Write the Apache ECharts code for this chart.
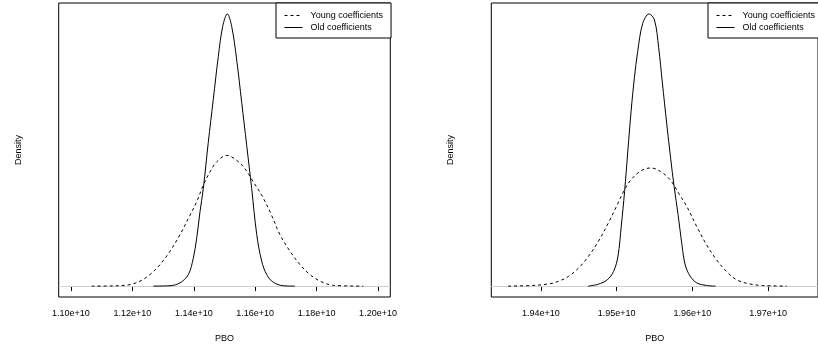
<!DOCTYPE html>
<html>
<head>
<meta charset="utf-8">
<script src="https://cdn.jsdelivr.net/npm/echarts@6/dist/echarts.min.js"></script>
<style>
html,body{margin:0;padding:0;background:#fff;overflow:hidden;}
#c{width:818px;height:348px;}
</style>
</head>
<body>
<div id="c"></div>
<script>
// ---- Data (x in units of 1e10, density in arbitrary units ×1e-9) ----
const seriesNames = ["Young coefficients", "Old coefficients"];

// Left panel
const leftYoungX = [1.10674,1.11378,1.11922,1.12248,1.12573,1.12899,1.13225,1.13550,1.13876,1.14094,1.14309,1.14528,1.14746,1.15072,1.15397,1.15668,1.15938,1.16212,1.16482,1.16808,1.17134,1.17459,1.17785,1.18111,1.18544,1.19521];
const leftYoungY = [0,0.005,0.04,0.13,0.30,0.56,0.91,1.34,1.85,2.20,2.63,2.98,3.24,3.41,3.28,3.06,2.72,2.37,1.94,1.34,0.91,0.56,0.30,0.13,0.02,0];
const leftOldX = [1.12681,1.13225,1.13550,1.13821,1.13984,1.14094,1.14202,1.14309,1.14472,1.14635,1.14798,1.14941,1.15091,1.15235,1.15397,1.15560,1.15723,1.15886,1.16049,1.16212,1.16375,1.16590,1.16915,1.17296];
const leftOldY = [0,0.01,0.085,0.30,0.73,1.25,1.94,2.54,3.75,4.87,5.99,6.77,7.10,6.77,5.90,4.79,3.67,2.54,1.35,0.65,0.30,0.10,0.01,0];
const leftTicks = [1.10,1.12,1.14,1.16,1.18,1.20];

// Right panel
const rightYoungX = [1.93566,1.93891,1.94108,1.94238,1.94368,1.94498,1.94628,1.94758,1.94888,1.94996,1.95105,1.95191,1.95321,1.95451,1.95581,1.95711,1.95821,1.95928,1.96058,1.96188,1.96318,1.96448,1.96578,1.96752,1.96926,1.97246];
const rightYoungY = [0,0.04,0.14,0.31,0.62,1.13,1.86,2.79,3.92,4.96,6.02,6.65,7.20,7.38,7.16,6.61,5.78,4.96,3.72,2.58,1.65,0.93,0.41,0.14,0.04,0];
const rightOldX = [1.94624,1.94758,1.94875,1.94960,1.95018,1.95061,1.95105,1.95148,1.95191,1.95235,1.95278,1.95343,1.95428,1.95499,1.95555,1.95603,1.95662,1.95714,1.95759,1.95811,1.95863,1.95906,1.95971,1.96058,1.96188,1.96306];
const rightOldY = [0,0.12,0.39,0.92,1.88,3.74,5.91,8.44,10.93,13.03,14.64,16.38,17.0,16.63,14.89,12.74,10.12,7.95,6.22,4.48,2.56,1.32,0.62,0.20,0.04,0];
const rightTicks = [1.94,1.95,1.96,1.97];

// ---- Build ----
const E10 = 1e10;
const pairs = (xs, ys) => xs.map((x, i) => [x * E10, ys[i]]);
const FONT = "'Liberation Sans', Arial, Helvetica, sans-serif";

function xAxisFor(idx, min, max, ticks) {
  const vals = ticks.map(t => t * E10);
  return {
    type: 'value', gridIndex: idx, min: min * E10, max: max * E10,
    name: 'PBO', nameLocation: 'middle', nameGap: 37,
    nameTextStyle: { fontFamily: FONT, fontSize: 9, color: '#000' },
    axisLine: { show: false },
    axisTick: { show: true, length: 5, lineStyle: { color: '#000', width: 1 }, customValues: vals },
    axisLabel: { show: true, customValues: vals, margin: 12, fontFamily: FONT, fontSize: 9, color: '#000',
      formatter: v => (v / E10).toFixed(2) + 'e+10' },
    splitLine: { show: false }
  };
}
function yAxisFor(idx, max) {
  return {
    type: 'value', gridIndex: idx, min: -0.04 * max, max: 1.04 * max,
    name: 'Density', nameLocation: 'middle', nameGap: 36,
    nameTextStyle: { fontFamily: FONT, fontSize: 9, color: '#000' },
    axisLine: { show: false }, axisTick: { show: false }, axisLabel: { show: false },
    splitLine: { show: false }
  };
}
function lineSeries(name, idx, data, dashed, withZero) {
  const s = {
    name, type: 'line', xAxisIndex: idx, yAxisIndex: idx, data,
    symbol: 'none', smooth: 0.35, silent: true, animation: false,
    lineStyle: { color: '#000', width: 1, type: dashed ? [3, 3] : 'solid' },
    itemStyle: { color: '#000' },
    z: 3
  };
  if (withZero) {
    s.markLine = {
      silent: true, symbol: 'none', label: { show: false }, animation: false,
      lineStyle: { color: '#cfcfcf', width: 1, type: 'solid' },
      data: [{ yAxis: 0 }], z: 1
    };
  }
  return s;
}
function legendFor(left) {
  return {
    left: left, top: 3, orient: 'vertical',
    data: seriesNames,
    itemWidth: 18, itemHeight: 9, itemGap: 3,
    padding: [8, 8, 6, 8],
    borderColor: '#000', borderWidth: 1, borderRadius: 0,
    backgroundColor: '#fff',
    selectedMode: false,
    itemStyle: { opacity: 0 },
    lineStyle: { width: 1, color: '#000' },
    textStyle: { fontFamily: FONT, fontSize: 9, color: '#000', padding: [0, 0, 0, 3] }
  };
}

const chart = echarts.init(document.getElementById('c'), null, { renderer: 'canvas' });
chart.setOption({
  animation: false,
  backgroundColor: '#fff',
  grid: [
    { left: 58.7, top: 3, width: 331.6, height: 296.3, show: true, borderColor: '#000', borderWidth: 1, backgroundColor: 'transparent' },
    { left: 491.3, top: 3, width: 331.6, height: 296.3, show: true, borderColor: '#000', borderWidth: 1, backgroundColor: 'transparent' }
  ],
  legend: [legendFor(276), legendFor(708)],
  xAxis: [xAxisFor(0, 1.096, 1.204, leftTicks), xAxisFor(1, 1.93345, 1.97659, rightTicks)],
  yAxis: [yAxisFor(0, 7.1), yAxisFor(1, 17.0)],
  series: [
    lineSeries(seriesNames[0], 0, pairs(leftYoungX, leftYoungY), true, true),
    lineSeries(seriesNames[1], 0, pairs(leftOldX, leftOldY), false, false),
    lineSeries(seriesNames[0], 1, pairs(rightYoungX, rightYoungY), true, true),
    lineSeries(seriesNames[1], 1, pairs(rightOldX, rightOldY), false, false)
  ]
});
</script>
</body>
</html>
